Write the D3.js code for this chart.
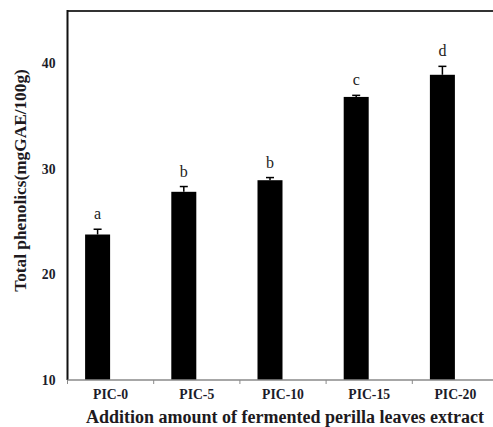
<!DOCTYPE html>
<meta charset="utf-8">
<title>Total phenolics</title>
<style>
  body { margin: 0; background: #fff; }
  text { font-family: "Liberation Serif", "Times New Roman", serif; }
  .tick-label { font-size: 13.7px; font-weight: bold; fill: #1c1c2a; }
  .axis-title { font-weight: bold; fill: #201a1e; }
  .letter { font-size: 16px; fill: #222; }
</style>
<body>
<svg width="493" height="427"></svg>
<script src="https://d3js.org/d3.v7.min.js"></script>
<script>
  // data
  var groups = ["PIC-0", "PIC-5", "PIC-10", "PIC-15", "PIC-20"];
  var values = [23.8, 27.85, 28.95, 36.85, 38.95];
  var errors = [0.5, 0.5, 0.25, 0.15, 0.8];
  var letters = ["a", "b", "b", "c", "d"];
  var yTicks = [10, 20, 30, 40];

  const svg = d3.select("svg");

  // plot area (right edge runs past the window, as in the figure)
  const plotLeft = 67.5, plotRight = 498.5, plotTop = 11, plotBottom = 380;

  const x = d3.scaleBand().domain(groups).range([plotLeft, plotRight]);
  const y = d3.scaleLinear().domain([10, 45]).range([plotBottom, plotTop]);

  const barW = 25;
  const barShift = -13; // bars sit a bit left of the band centre

  // top border
  svg.append("line")
    .attr("x1", plotLeft).attr("x2", 493)
    .attr("y1", plotTop).attr("y2", plotTop)
    .attr("stroke", "#333").attr("stroke-width", 2);

  // bars
  svg.selectAll(".bar")
    .data(groups)
    .enter().append("rect")
    .attr("class", "bar")
    .attr("x", d => x(d) + x.bandwidth() / 2 + barShift - barW / 2)
    .attr("width", barW)
    .attr("y", (d, i) => y(values[i]))
    .attr("height", (d, i) => plotBottom - y(values[i]))
    .attr("fill", "#000");

  // error bars (upper only)
  groups.forEach(function (g, i) {
    var cx = x(g) + x.bandwidth() / 2 + barShift;
    var yTop = y(values[i] + errors[i]);
    svg.append("line")
      .attr("x1", cx).attr("x2", cx)
      .attr("y1", y(values[i])).attr("y2", yTop)
      .attr("stroke", "#000").attr("stroke-width", 1.5);
    svg.append("line")
      .attr("x1", cx - 4).attr("x2", cx + 4)
      .attr("y1", yTop).attr("y2", yTop)
      .attr("stroke", "#000").attr("stroke-width", 1.5);
    svg.append("text")
      .attr("class", "letter")
      .attr("x", cx)
      .attr("y", yTop - 10)
      .attr("text-anchor", "middle")
      .text(letters[i]);
  });

  // y axis
  svg.append("line")
    .attr("x1", plotLeft).attr("x2", plotLeft)
    .attr("y1", plotTop - 1).attr("y2", plotBottom)
    .attr("stroke", "#111").attr("stroke-width", 2);

  svg.selectAll(".ytick")
    .data(yTicks)
    .enter().append("text")
    .attr("class", "tick-label")
    .attr("x", 55.5)
    .attr("y", d => y(d) + 4.5)
    .attr("text-anchor", "end")
    .text(d => d);

  // x axis
  svg.append("line")
    .attr("x1", plotLeft).attr("x2", 493)
    .attr("y1", plotBottom).attr("y2", plotBottom)
    .attr("stroke", "#8a8a8a").attr("stroke-width", 1.5);

  var bounds = groups.map(g => x(g)).concat([plotRight]);
  svg.selectAll(".xtick")
    .data(bounds)
    .enter().append("line")
    .attr("x1", d => d).attr("x2", d => d)
    .attr("y1", plotBottom).attr("y2", plotBottom + 4)
    .attr("stroke", "#8a8a8a").attr("stroke-width", 1);

  svg.selectAll(".xlabel")
    .data(groups)
    .enter().append("text")
    .attr("class", "tick-label")
    .attr("x", d => x(d) + x.bandwidth() / 2)
    .attr("y", 399)
    .attr("text-anchor", "middle")
    .text(d => d);

  // axis titles
  svg.append("text")
    .attr("class", "axis-title")
    .style("font-size", "18px")
    .attr("x", 285)
    .attr("y", 423)
    .attr("text-anchor", "middle")
    .text("Addition amount of fermented perilla leaves extract");

  svg.append("text")
    .attr("class", "axis-title")
    .style("font-size", "17.3px")
    .attr("transform", "translate(26,180.5) rotate(-90)")
    .attr("text-anchor", "middle")
    .text("Total phenolics(mgGAE/100g)");
</script>
</body>
